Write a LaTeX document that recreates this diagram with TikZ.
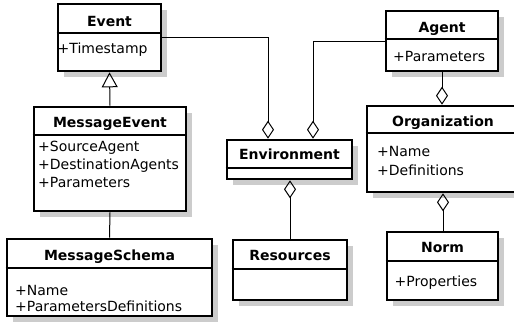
\documentclass[tikz,border=0pt]{standalone}
\usepackage{fontspec}
\setmainfont{DejaVu Sans}
\usetikzlibrary{arrows.meta,shadows}
\begin{document}
\begin{tikzpicture}[x=1pt,y=-1pt,
  font=\fontsize{14}{17.5}\selectfont,
  classbox/.style={draw=black, line width=2.6pt, fill=white, inner sep=0pt,
    drop shadow={shadow xshift=6pt, shadow yshift=-6pt, fill=black!20, opacity=1}},
  divider/.style={line width=1.1pt},
  title/.style={font=\fontsize{14}{17.5}\selectfont\bfseries, anchor=base, inner sep=0pt},
  attr/.style={anchor=base west, inner sep=0pt},
  link/.style={line width=1pt},
  diamondtip/.style={Diamond[open, width=12pt, length=18pt, line width=1pt]},
  agg/.style={link, -{Diamond[open, width=12pt, length=18pt, line width=1pt]}},
  aggstart/.style={link, {Diamond[open, width=12pt, length=18pt, line width=1pt]}-},
  gen/.style={link, -{Triangle[open, width=16pt, length=15pt, line width=1pt]}}]
\useasboundingbox (0,0) rectangle (514,324);
\clip (0,0) rectangle (514,324);

% class boxes: centre at the middle of each outline
\node[classbox, minimum width=103pt, minimum height=67pt] (event) at (109.5,37.5) {};
\node[classbox, minimum width=112pt, minimum height=60pt] (agent) at (442,41) {};
\node[classbox, minimum width=152pt, minimum height=104pt] (msgevent) at (110,159) {};
\node[classbox, minimum width=125pt, minimum height=39pt] (environment) at (289.5,159.5) {};
\node[classbox, minimum width=152pt, minimum height=86pt] (organization) at (443,149) {};
\node[classbox, minimum width=205pt, minimum height=77pt] (msgschema) at (109.5,277.5) {};
\node[classbox, minimum width=114pt, minimum height=60pt] (resources) at (290,270) {};
\node[classbox, minimum width=111pt, minimum height=68pt] (norm) at (442.5,266) {};

% compartment separators
\draw[divider] (event.west |- 0,33) -- (event.east |- 0,33);
\draw[divider] (agent.west |- 0,39) -- (agent.east |- 0,39);
\draw[divider] (msgevent.west |- 0,135) -- (msgevent.east |- 0,135);
\draw[divider] (environment.west |- 0,168) -- (environment.east |- 0,168);
\draw[divider] (organization.west |- 0,133) -- (organization.east |- 0,133);
\draw[divider] (msgschema.west |- 0,268) -- (msgschema.east |- 0,268);
\draw[divider] (resources.west |- 0,269) -- (resources.east |- 0,269);
\draw[divider] (norm.west |- 0,261) -- (norm.east |- 0,261);

% class names
\node[title] (eventT) at (109.5,26) {Event};
\node[title] (agentT) at (442,32) {Agent};
\node[title] (msgeventT) at (110,127.3) {MessageEvent};
\node[title] (environmentT) at (289.5,159.3) {Environment};
\node[title] (organizationT) at (443,126) {Organization};
\node[title] (msgschemaT) at (109.5,260.7) {MessageSchema};
\node[title] (resourcesT) at (290,260.7) {Resources};
\node[title] (normT) at (442.5,252.3) {Norm};

% attributes
\node[attr] (eventA) at (57.5,53.3) {+Timestamp};
\node[attr] (agentA) at (393,61.7) {+Parameters};
\node[attr] (msgeventA1) at (38,151.7) {+SourceAgent};
\node[attr] (msgeventA2) at (38,169.5) {+DestinationAgents};
\node[attr] (msgeventA3) at (38,187.3) {+Parameters};
\node[attr] (organizationA1) at (377,156.7) {+Name};
\node[attr] (organizationA2) at (377,175) {+Definitions};
\node[attr] (msgschemaA1) at (15,295) {+Name};
\node[attr] (msgschemaA2) at (15,311.7) {+ParametersDefinitions};
\node[attr] (normA) at (394.5,286.7) {+Properties};

% relations
\draw[gen] (msgevent.north) -- (event.south);
\draw[link] (msgevent.south) -- (msgschema.north);
\draw[agg] (event.east) -| ([xshift=-21.5pt]environment.north);
\draw[agg] (agent.west) -| ([xshift=23.5pt]environment.north);
\draw[aggstart] (environment.south -| resources.north) -- (resources.north);
\draw[agg] (agent.south) -- (agent.south |- organization.north);
\draw[aggstart] (organization.south) -- (organization.south |- norm.north);
\end{tikzpicture}
\end{document}
